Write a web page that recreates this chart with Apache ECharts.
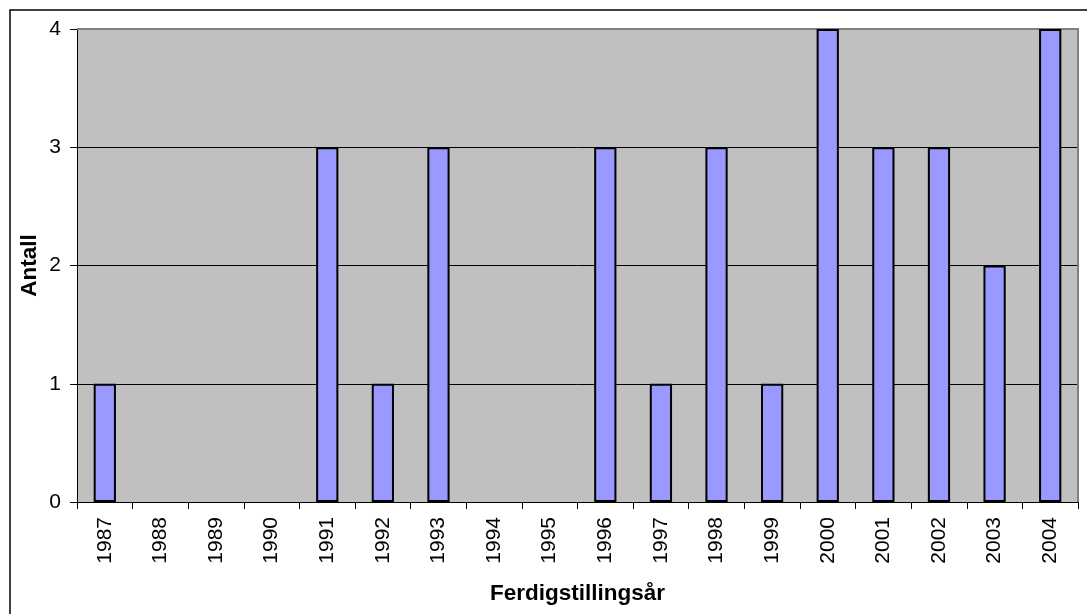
<!DOCTYPE html>
<html>
<head>
<meta charset="utf-8">
<script src="https://cdn.jsdelivr.net/npm/echarts@6/dist/echarts.min.js"></script>
<style>
  html, body { margin: 0; padding: 0; background: #fff; }
  #chart { width: 1087px; height: 614px; }
</style>
</head>
<body>
<div id="chart"></div>
<script>
var years = ['1987', '1988', '1989', '1990', '1991', '1992', '1993', '1994', '1995',
	'1996', '1997', '1998', '1999', '2000', '2001', '2002', '2003', '2004'];
var antall = [1, 0, 0, 0, 3, 1, 3, 0, 0, 3, 1, 3, 1, 4, 3, 3, 2, 4];
var yTicks = [0, 1, 2, 3, 4];

var myChart = echarts.init(document.getElementById('chart'));
var font = 'Liberation Sans, Arial, sans-serif';

// Excel leaves empty years blank, no flat bar
var barData = antall.map(function(v) { return v === 0 ? '-' : v; });

var option = {
	animation: false,
	textStyle: { fontFamily: font },
	graphic: [
		{
			type: 'rect',
			shape: { x: 10, y: 10, width: 1100, height: 620 },
			style: { fill: 'none', stroke: '#000', lineWidth: 1.5 },
			silent: true
		},
		{
			type: 'polyline',
			shape: { points: [[77, 29], [1078, 29], [1078, 502]] },
			style: { fill: 'none', stroke: '#808080', lineWidth: 2 },
			silent: true,
			z: 1
		}
	],
	grid: {
		left: 77,
		right: 9,
		top: 29,
		bottom: 112,
		outerBoundsMode: 'none',
		show: true,
		backgroundColor: '#c0c0c0',
		borderWidth: 0
	},
	xAxis: {
		type: 'category',
		data: years,
		name: 'Ferdigstillingsår',
		nameLocation: 'middle',
		nameGap: 80,
		nameTextStyle: { fontSize: 22.5, fontWeight: 'bold', color: '#000', fontFamily: font },
		axisLine: { lineStyle: { color: '#000', width: 1 } },
		axisTick: { show: true, length: 7, lineStyle: { color: '#000' } },
		axisLabel: {
			rotate: 90,
			fontSize: 21,
			color: '#000',
			margin: 15,
			fontFamily: font
		}
	},
	yAxis: {
		type: 'value',
		min: yTicks[0],
		max: yTicks[yTicks.length - 1],
		interval: 1,
		name: 'Antall',
		nameLocation: 'middle',
		nameGap: 36,
		nameMoveOverlap: false,
		nameRotate: 90,
		nameTextStyle: { fontSize: 22.5, fontWeight: 'bold', color: '#000', fontFamily: font },
		axisLine: { show: true, lineStyle: { color: '#000', width: 1 } },
		axisTick: { show: true, length: 7, lineStyle: { color: '#000' } },
		axisLabel: { fontSize: 21, color: '#000', margin: 16, fontFamily: font },
		splitLine: { show: true, lineStyle: { color: '#000', width: 1 } }
	},
	series: [
		{
			name: 'Antall',
			type: 'bar',
			data: barData,
			barWidth: '40%',
			itemStyle: {
				color: '#9999ff',
				borderColor: '#000',
				borderWidth: 2
			}
		}
	]
};

myChart.setOption(option);
</script>
</body>
</html>
